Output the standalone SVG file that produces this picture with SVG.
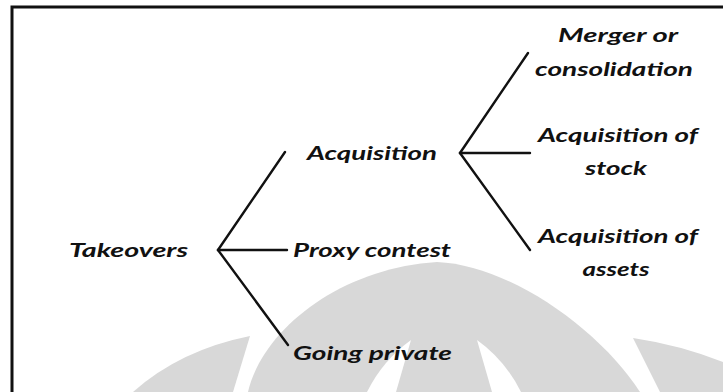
<svg xmlns="http://www.w3.org/2000/svg" width="723" height="392" viewBox="0 0 723 392">
<style>
.wm{fill:#d8d8d8;stroke:none}
.cut{fill:#ffffff;stroke:none}
.lbl{font-family:Lato,"Liberation Sans",sans-serif;font-style:italic;font-weight:700;font-size:19px;fill:#111}
.ln{stroke:#111;stroke-width:2.4;fill:none;stroke-linecap:round}
</style>
<rect width="723" height="392" fill="#ffffff"/>
<g id="watermark">
<path class="wm" d="M133,392 Q180,350 250,336 L233,392 Z"/>
<path class="wm" d="M248,392 C262,330 340,268 437,262 C510,265 600,330 640,392 Z"/>
<path class="cut" d="M477,340 L492,392 L521,392 Q505,360 477,340 Z"/>
<path class="cut" d="M411,340 L396,392 L367,392 Q383,360 411,340 Z"/>
<path class="wm" d="M633,338 Q680,345 723,362 L723,392 L660,392 Z"/>
</g>
<path id="frame" d="M12,392 V7 H723" fill="none" stroke="#111" stroke-width="3"/>
<g id="connectors">
<path class="ln" d="M218,250 L285,152"/>
<path class="ln" d="M218,250 L287,250"/>
<path class="ln" d="M218,250 L288,345"/>
<path class="ln" d="M460,153 L528,53"/>
<path class="ln" d="M460,153 L530,153"/>
<path class="ln" d="M460,153 L530,250"/>
</g>
<g id="takeovers"><text class="lbl" x="69" y="257" textLength="119" lengthAdjust="spacingAndGlyphs">Takeovers</text></g>
<g id="acquisition"><text class="lbl" x="307" y="160" textLength="130" lengthAdjust="spacingAndGlyphs">Acquisition</text></g>
<g id="proxy"><text class="lbl" x="293" y="257" textLength="158" lengthAdjust="spacingAndGlyphs">Proxy contest</text></g>
<g id="going-private"><text class="lbl" x="293" y="360" textLength="159" lengthAdjust="spacingAndGlyphs">Going private</text></g>
<g id="merger"><text class="lbl" text-anchor="middle" x="618" y="42" textLength="120" lengthAdjust="spacingAndGlyphs">Merger or</text><text class="lbl" text-anchor="middle" x="614" y="76" textLength="158" lengthAdjust="spacingAndGlyphs">consolidation</text></g>
<g id="acq-stock"><text class="lbl" text-anchor="middle" x="618" y="142" textLength="160" lengthAdjust="spacingAndGlyphs">Acquisition of</text><text class="lbl" text-anchor="middle" x="616" y="175" textLength="62" lengthAdjust="spacingAndGlyphs">stock</text></g>
<g id="acq-assets"><text class="lbl" text-anchor="middle" x="618" y="243" textLength="160" lengthAdjust="spacingAndGlyphs">Acquisition of</text><text class="lbl" text-anchor="middle" x="616" y="276" textLength="67" lengthAdjust="spacingAndGlyphs">assets</text></g>
</svg>
